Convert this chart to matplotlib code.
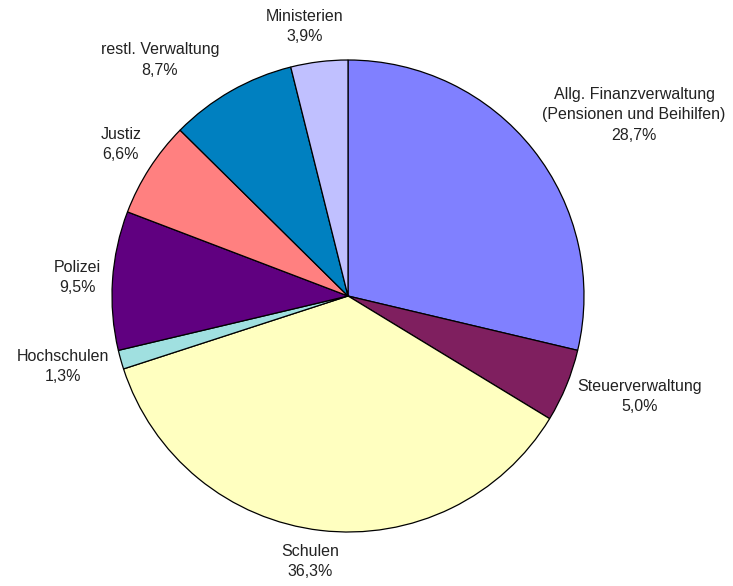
import numpy as np
import matplotlib.pyplot as plt

plt.rcParams['font.family'] = ['Liberation Sans', 'DejaVu Sans']

labels = ['Allg. Finanzverwaltung\n(Pensionen und Beihilfen)', 'Steuerverwaltung', 'Schulen',
          'Hochschulen', 'Polizei', 'Justiz', 'restl. Verwaltung', 'Ministerien']
shares = [28.7, 5.0, 36.3, 1.3, 9.5, 6.6, 8.7, 3.9]
colors = ['#8080ff', '#7f1f5f', '#ffffc0', '#a0e0e0', '#600080', '#ff8080', '#0080c0', '#c0c0ff']

# label centres, in pie radii from the centre
label_pos = [(1.212, 0.767), (1.237, -0.424), (-0.161, -1.127), (-1.208, -0.30),
             (-1.148, 0.08), (-0.962, 0.64), (-0.797, 1.0), (-0.182, 1.14)]

fig = plt.figure()
fig.set_size_inches(7.33, 5.86)
ax = fig.add_axes([0, 0, 1, 1])
ax.axis('off')

ax.pie(shares, colors=colors, startangle=90, counterclock=False, radius=1.0,
       wedgeprops=dict(edgecolor='black', linewidth=0.9))

for lab, val, (x, y) in zip(labels, shares, label_pos):
    txt = lab + '\n' + ('%.1f%%' % val).replace('.', ',')
    ax.text(x, y, txt, ha='center', va='center', fontsize=11.5, color='#222222', linespacing=1.42)

ax.set_xlim(-348 / 236, (733 - 348) / 236)
ax.set_ylim((296 - 586) / 236, 296 / 236)
ax.set_aspect('auto')

plt.savefig('out.png', dpi=100)
plt.close()
